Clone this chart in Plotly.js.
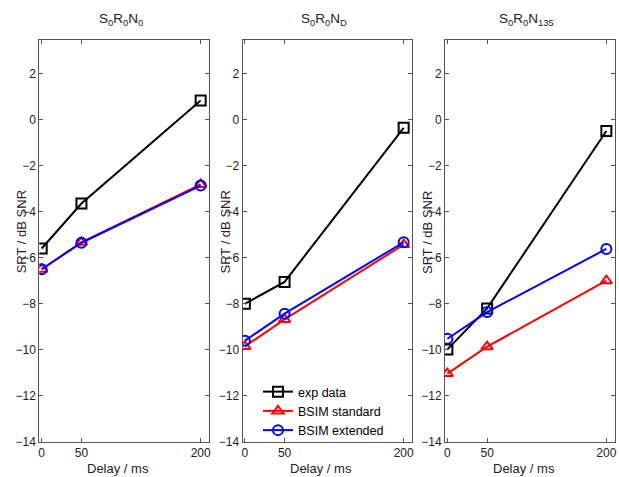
<!DOCTYPE html>
<html>
<head>
<meta charset="utf-8">
<script src="https://cdn.plot.ly/plotly-3.0.1.min.js"></script>
<style>html,body{margin:0;padding:0;background:#fff;}#chart{width:619px;height:477px;}</style>
</head>
<body>
<div id="chart"></div>
<script>
const delays = [0, 50, 200];
const xTickLabels = ['0', '50', '200'];
const yTicks = [-14, -12, -10, -8, -6, -4, -2, 0, 2];
const panelTitles = ['S<sub>0</sub>R<sub>0</sub>N<sub>0</sub>', 'S<sub>0</sub>R<sub>0</sub>N<sub>D</sub>', 'S<sub>0</sub>R<sub>0</sub>N<sub>135</sub>'];
const seriesNames = ['exp data', 'BSIM standard', 'BSIM extended'];

const expData = [
  [-5.6, -3.65, 0.82],
  [-8.0, -7.05, -0.36],
  [-9.98, -8.2, -0.5]
];
const bsimStandard = [
  [-6.5, -5.33, -2.82],
  [-9.85, -8.68, -5.43],
  [-11.03, -9.86, -7.0]
];
const bsimExtended = [
  [-6.5, -5.35, -2.87],
  [-9.6, -8.43, -5.33],
  [-9.52, -8.36, -5.62]
];

const colors = ['#000000', '#ff0000', '#0000ff'];
const symbols = ['square-open', 'triangle-up-open', 'circle-open'];
const allSeries = [expData, bsimStandard, bsimExtended];

const W = 619, H = 477;
const xDomains = [[39.3 / W, 209 / W], [242.5 / W, 412 / W], [445 / W, 614.7 / W]];
const yDomain = [1 - 442 / H, 1 - 40 / H];

const traces = [];
for (let p = 0; p < 3; p++) {
  for (let s = 0; s < 3; s++) {
    traces.push({
      x: delays,
      y: allSeries[s][p],
      type: 'scatter',
      mode: 'lines+markers',
      name: seriesNames[s],
      legendgroup: seriesNames[s],
      showlegend: p === 1,
      xaxis: p === 0 ? 'x' : 'x' + (p + 1),
      yaxis: p === 0 ? 'y' : 'y' + (p + 1),
      line: {color: colors[s], width: 2},
      marker: {symbol: symbols[s], size: 10, color: colors[s], line: {width: 2, color: colors[s]}}
    });
  }
}

const font = {family: '"Liberation Sans", Arial, Helvetica, sans-serif', size: 12, color: '#222'};
const layout = {
  width: W, height: H,
  margin: {l: 0, r: 0, t: 0, b: 0},
  paper_bgcolor: '#fff', plot_bgcolor: '#fff',
  font: font,
  showlegend: true,
  legend: {
    x: 258 / W, y: 1 - 377 / H, xanchor: 'left', yanchor: 'top',
    bgcolor: 'rgba(0,0,0,0)', borderwidth: 0,
    font: {family: font.family, size: 12.5, color: '#000'},
    tracegroupgap: 0, itemwidth: 30
  },
  annotations: [],
  hovermode: false
};

for (let p = 0; p < 3; p++) {
  const sfx = p === 0 ? '' : String(p + 1);
  layout['xaxis' + sfx] = {
    domain: xDomains[p], range: [-3, 210.5], anchor: 'y' + sfx,
    tickmode: 'array', tickvals: delays, ticktext: xTickLabels,
    ticks: 'inside', ticklen: 4, tickwidth: 1, tickcolor: '#555',
    showline: true, linecolor: '#555', linewidth: 1, mirror: 'ticks',
    showgrid: false, zeroline: false, tickfont: font
  };
  layout['yaxis' + sfx] = {
    domain: yDomain, range: [-14, 3.45], anchor: 'x' + sfx,
    tickmode: 'array', tickvals: yTicks,
    ticks: 'inside', ticklen: 4, tickwidth: 1, tickcolor: '#555',
    showline: true, linecolor: '#555', linewidth: 1, mirror: 'ticks',
    showgrid: false, zeroline: false, tickfont: font
  };
  const cx = (xDomains[p][0] + xDomains[p][1]) / 2;
  layout.annotations.push({
    text: panelTitles[p], xref: 'paper', yref: 'paper', x: cx - 3 / W, y: 1 - 19 / H,
    xanchor: 'center', yanchor: 'middle', showarrow: false,
    font: {family: font.family, size: 13.5, color: '#222'}
  });
  layout.annotations.push({
    text: 'Delay / ms', xref: 'paper', yref: 'paper', x: cx - 6 / W, y: 1 - 468 / H,
    xanchor: 'center', yanchor: 'middle', showarrow: false,
    font: {family: font.family, size: 13, color: '#222'}
  });
  layout.annotations.push({
    text: 'SRT / dB SNR', xref: 'paper', yref: 'paper',
    x: (xDomains[p][0] * W - 18) / W, y: 1 - 232 / H, textangle: -90,
    xanchor: 'center', yanchor: 'middle', showarrow: false,
    font: {family: font.family, size: 13, color: '#222'}
  });
}

Plotly.newPlot('chart', traces, layout, {staticPlot: true, displayModeBar: false});
</script>
</body>
</html>
